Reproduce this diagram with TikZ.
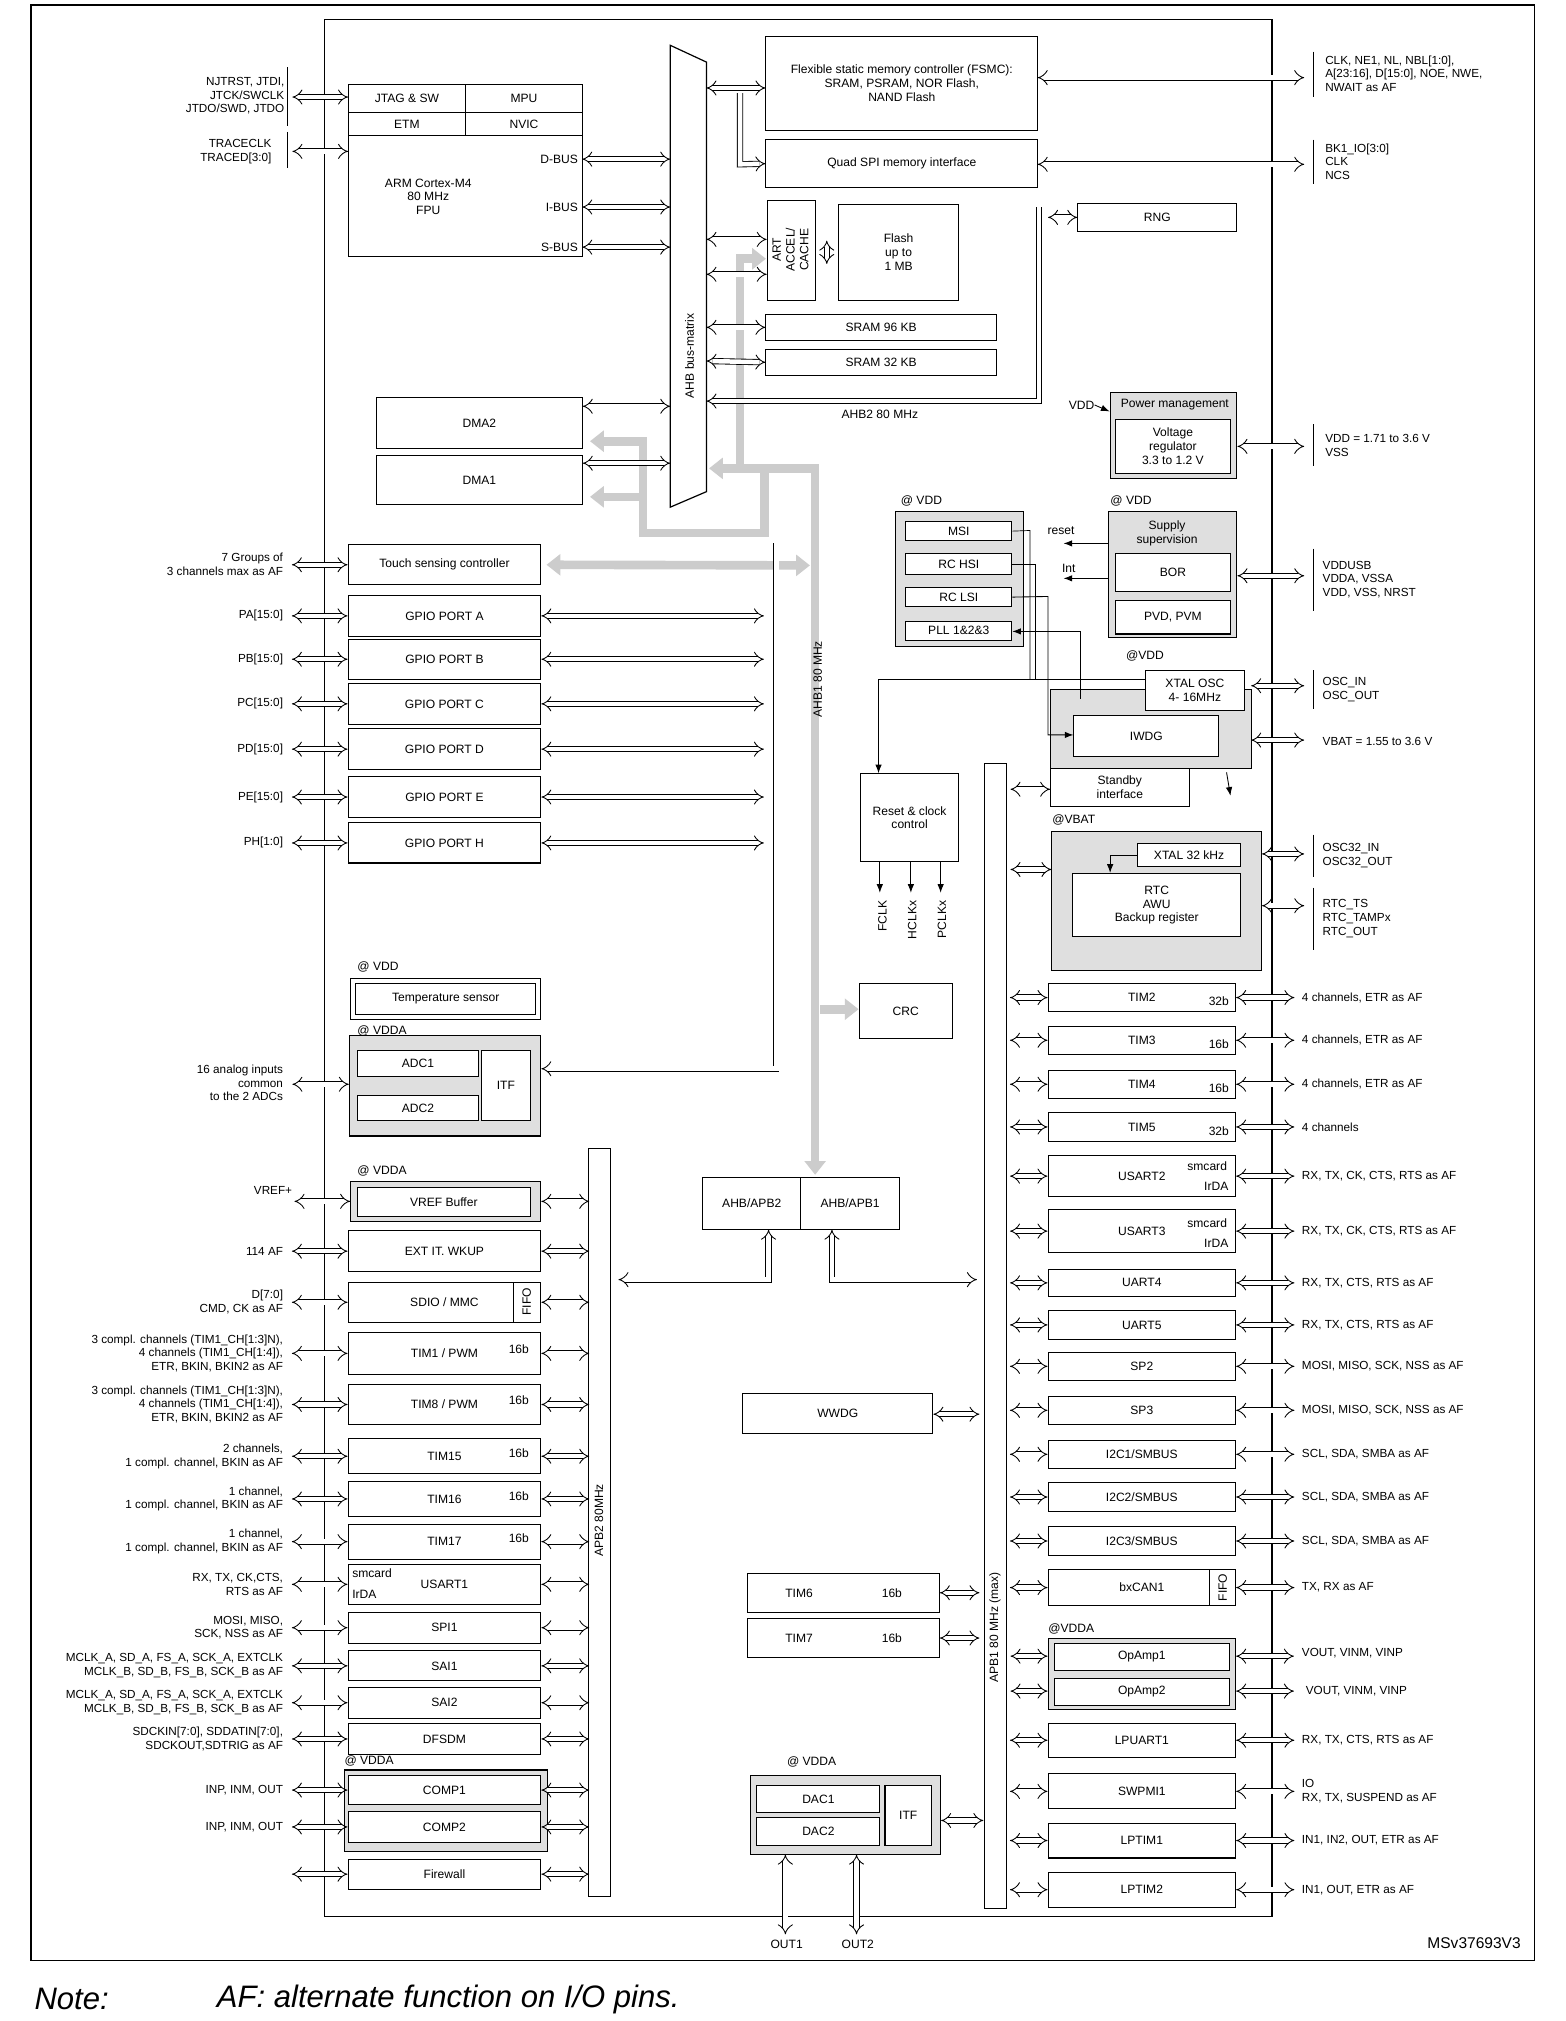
\documentclass[tikz,border=0pt]{standalone}
\usepackage{fontspec}
\setmainfont{Liberation Sans}
\usetikzlibrary{arrows.meta,shapes.geometric}
\newcommand\bx[6]{\node[box,minimum width={(#4-#2)*0.75pt},minimum height={(#5-#3)*0.75pt}] (#1) at ({(#2+#4)/2},{(#3+#5)/2}) {#6};}
\newcommand\litem[6]{\bx{#1}{269}{#2}{418}{#3}{#4}
 \draw[dbl] (#1.west) -- ++(-43,0);
 \draw[dbl] (#1.east) -- ++(#6,0);
 \node[lab,anchor=east,align=right] at (219,{(#2+#3)/2}) {#5};}
\newcommand\ritem[5]{\bx{#1}{810}{#2}{955}{#3}{#4}
 \draw[dbl] (#1.west) -- ++(-29,0);
 \draw[dbl] (#1.east) -- ++(45,0);
 \node[lab,anchor=west,align=left] at (1006,{(#2+#3)/2}) {#5};}
\begin{document}
\begin{tikzpicture}[x=0.75pt,y=-0.75pt,font=\fontsize{7}{8}\selectfont,
 box/.style={draw,line width=0.6pt,inner sep=0pt,align=center,fill=white},
 gbox/.style={draw,line width=0.6pt,fill=gray!25},
 lab/.style={inner sep=0pt,font=\fontsize{6.8}{8}\selectfont},
 dbl/.style={double,double distance=2.6pt,line width=0.5pt,{Implies}-{Implies}},
 dbr/.style={double,double distance=2.6pt,line width=0.5pt,{Implies}-},
 gb/.style={draw=gray!40,line width=5pt,-{Triangle[length=8pt,width=12pt]}},
 gbb/.style={draw=gray!40,line width=5pt,{Triangle[length=8pt,width=12pt]}-{Triangle[length=8pt,width=12pt]}},
 th/.style={line width=0.5pt,-{Latex[length=5pt]}}]
\useasboundingbox (0,0) rectangle (1210,1562);
\fill[white] (0,0) rectangle (1210,1562);
\draw[line width=0.8pt] (24,4) rectangle (1186,1515);
\draw[line width=0.8pt] (251,15) rectangle (983,1481);
\node[anchor=east,font=\fontsize{9}{10}\selectfont] at (1180,1502) {MSv37693V3};
\node[anchor=west,font=\fontsize{18}{20}\selectfont\itshape] at (22,1545) {Note:};
\node[anchor=west,font=\fontsize{18}{20}\selectfont\itshape] at (163,1545) {AF: alternate function on I/O pins.};

% CPU
\bx{cpu}{269}{65}{450}{198}{}
\bx{jtag}{269}{65}{360}{87}{JTAG \& SW}
\bx{mpu}{360}{65}{450}{87}{MPU}
\bx{etm}{269}{87}{360}{105}{ETM}
\bx{nvic}{360}{87}{450}{105}{NVIC}
\node[align=center,inner sep=0] at (331,152) {ARM Cortex-M4\\80 MHz\\FPU};
\node[anchor=east,inner sep=0] (dbus) at (447,123) {D-BUS};
\node[anchor=east,inner sep=0] (ibus) at (447,160) {I-BUS};
\node[anchor=east,inner sep=0] (sbus) at (447,191) {S-BUS};
\draw[dbl] (450,123) -- (518,123);
\draw[dbl] (450,160) -- (518,160);
\draw[dbl] (450,191) -- (518,191);
\node[lab,anchor=east,align=right] at (220,74) {NJTRST, JTDI,\\JTCK/SWCLK\\JTDO/SWD, JTDO};
\node[lab,anchor=east,align=right] at (210,117) {TRACECLK\\TRACED[3:0]};
\draw (222,52)--(222,97); \draw (222,102)--(222,130);
\draw[dbl] (226,75) -- (269,75);
\draw[dbl] (226,117) -- (269,117);

% bus matrix
\draw[line width=0.7pt,fill=white] (518,35)--(546,48)--(546,380)--(518,392)--cycle;
\node[rotate=90] at (533,275) {AHB bus-matrix};

% gray buses
\draw[gbb] (548,362) -- (630,362) -- (630,908);
\draw[gb] (572,362) -- (572,200) -- (592,200);
\draw[gb] (591,362) -- (591,412) -- (497,412) -- (497,341) -- (456,341);
\draw[gb] (497,384) -- (456,384);
\node[rotate=90] at (632,525) {AHB1 80 MHz};

% FSMC
\bx{fsmc}{592}{28}{802}{101}{Flexible static memory controller (FSMC):\\SRAM, PSRAM, NOR Flash,\\NAND Flash}
\bx{qspi}{592}{108}{802}{145}{Quad SPI memory interface}
\draw[dbl] (546,68) -- (fsmc.west|-0,68);
\draw[dbr] (qspi.west) -- (572,127) -- (572,72);
\draw[dbl] (802,60) -- (1008,60);
\draw[dbl] (802,127) -- (1008,127);
\draw (1015,40)--(1015,75); \draw (1015,108)--(1015,142);
\node[lab,anchor=west,align=left] at (1024,57) {CLK, NE1, NL, NBL[1:0],\\A[23:16], D[15:0], NOE, NWE,\\NWAIT as AF};
\node[lab,anchor=west,align=left] at (1024,125) {BK1\_IO[3:0]\\CLK\\NCS};

% ART, flash, SRAM
\bx{art}{593}{155}{630}{232}{}
\node[rotate=90,align=center,inner sep=0] at (611,193) {ART\\ACCEL/\\CACHE};
\bx{flash}{648}{158}{741}{232}{Flash\\up to\\1 MB}
\draw[dbl] (639,186) -- (639,204);
\draw[dbl] (546,185) -- (art.west|-0,185);
\draw[dbl] (546,212) -- (art.west|-0,212);
\bx{sram1}{592}{243}{770}{263}{SRAM 96 KB}
\bx{sram2}{592}{270}{770}{290}{SRAM 32 KB}
\draw[dbl] (546,253) -- (sram1.west);
\draw[dbl] (546,279) -- (sram2.west);
\bx{rng}{833}{157}{956}{179}{RNG}
\draw[dbr] (546,310) -- (803,310) -- (803,160);
\draw[dbl] (810,168) -- (rng.west);
\node at (680,320) {AHB2 80 MHz};

% DMA
\bx{dma2}{291}{307}{450}{347}{DMA2}
\bx{dma1}{291}{352}{450}{390}{DMA1}
\draw[dbl] (dma2.east|-0,314) -- (518,314);
\draw[dbl] (dma1.east|-0,358) -- (518,358);

% left column
\bx{tsc}{269}{421}{418}{452}{Touch sensing controller}
\draw[dbl] (tsc.west) -- ++(-43,0);
\node[lab,anchor=east,align=right] at (219,436) {7 Groups of\\3 channels max as AF};
\draw[gbb] (tsc.east) ++(4,0) -- (626,437);
\litem{gpa}{460}{492}{GPIO PORT A}{PA[15:0]}{172}
\litem{gpb}{494}{525}{GPIO PORT B}{PB[15:0]}{172}
\litem{gpc}{528}{560}{GPIO PORT C}{PC[15:0]}{172}
\litem{gpd}{563}{595}{GPIO PORT D}{PD[15:0]}{172}
\litem{gpe}{600}{632}{GPIO PORT E}{PE[15:0]}{172}
\litem{gph}{636}{667}{GPIO PORT H}{PH[1:0]}{172}

\node[anchor=west,inner sep=0] at (276,747) {@ VDD};
\bx{tso}{271}{756}{418}{788}{}
\bx{ts}{275}{760}{414}{784}{Temperature sensor}

\node[gbox,minimum width={148*0.75pt},minimum height={78*0.75pt},inner sep=0] (adc) at (344,839) {};
\node[anchor=west,inner sep=0] at (276,797) {@ VDDA};
\bx{adc1}{276}{812}{370}{832}{ADC1}
\bx{adc2}{276}{847}{370}{866}{ADC2}
\bx{itf1}{372}{812}{410}{866}{ITF}
\draw[dbr] (adc.east|-0,826) -- (600,826) -- (600,420);
\draw[dbl] (226,838) -- (adc.west|-0,838);
\node[lab,anchor=east,align=right] at (219,837) {16 analog inputs\\common\\to the 2 ADCs};

% APB2
\bx{apb2}{455}{888}{472}{1466}{}
\node[rotate=90] at (463,1175) {APB2 80MHz};

\node[anchor=west,inner sep=0] at (276,905) {@ VDDA};
\node[gbox,minimum width={147*0.75pt},minimum height={31*0.75pt},inner sep=0] (vrefo) at (344.5,928.5) {};
\bx{vref}{276}{918}{410}{940}{VREF Buffer}
\draw[dbl] (vrefo.west) -- ++(-43,0);
\draw[dbl] (vrefo.east) -- ++(37,0);
\node[lab,anchor=east] at (226,920) {VREF+};
\litem{exti}{951}{983}{EXT IT. WKUP}{114 AF}{37}
\litem{sdio}{991}{1022}{SDIO / MMC}{D[7:0]\\CMD, CK as AF}{37}
\bx{sfifo}{397}{991}{418}{1022}{}
\node[rotate=90,inner sep=0] at (407,1006) {FIFO};
\litem{tim1}{1030}{1062}{TIM1 / PWM}{3 compl. channels (TIM1\_CH[1:3]N),\\4 channels (TIM1\_CH[1:4]),\\ETR, BKIN, BKIN2 as AF}{37}
\litem{tim8}{1070}{1101}{TIM8 / PWM}{3 compl. channels (TIM1\_CH[1:3]N),\\4 channels (TIM1\_CH[1:4]),\\ETR, BKIN, BKIN2 as AF}{37}
\litem{tim15}{1112}{1139}{TIM15}{2 channels,\\1 compl. channel, BKIN as AF}{37}
\litem{tim16}{1145}{1172}{TIM16}{1 channel,\\1 compl. channel, BKIN as AF}{37}
\litem{tim17}{1178}{1205}{TIM17}{1 channel,\\1 compl. channel, BKIN as AF}{37}
\foreach \y in {1043,1082,1123,1156,1189} \node at (401,\y) {16b};
\litem{usart1}{1209}{1240}{USART1}{RX, TX, CK,CTS,\\RTS as AF}{37}
\node[anchor=west,inner sep=0] at (272,1216) {smcard};
\node[anchor=west,inner sep=0] at (272,1232) {IrDA};
\litem{spi1}{1246}{1270}{SPI1}{MOSI, MISO,\\SCK, NSS as AF}{37}
\litem{sai1}{1276}{1299}{SAI1}{MCLK\_A, SD\_A, FS\_A, SCK\_A, EXTCLK\\MCLK\_B, SD\_B, FS\_B, SCK\_B as AF}{37}
\litem{sai2}{1304}{1328}{SAI2}{MCLK\_A, SD\_A, FS\_A, SCK\_A, EXTCLK\\MCLK\_B, SD\_B, FS\_B, SCK\_B as AF}{37}
\litem{dfsdm}{1332}{1356}{DFSDM}{SDCKIN[7:0], SDDATIN[7:0],\\SDCKOUT,SDTRIG as AF}{37}
\node[anchor=west,inner sep=0] at (266,1361) {@ VDDA};
\node[gbox,minimum width={157*0.75pt},minimum height={63*0.75pt},inner sep=0] (comp) at (344.5,1399.5) {};
\litem{comp1}{1372}{1395}{COMP1}{INP, INM, OUT}{37}
\litem{comp2}{1400}{1424}{COMP2}{INP, INM, OUT}{37}
\litem{fw}{1437}{1460}{Firewall}{}{37}

% middle
\bx{rcc}{665}{598}{741}{666}{Reset \& clock\\control}
\draw[th] (680,666) -- (680,690);
\draw[th] (704,666) -- (704,690);
\draw[th] (727,666) -- (727,690);
\node[rotate=90,anchor=east,inner sep=0] at (682,696) {FCLK};
\node[rotate=90,anchor=east,inner sep=0] at (705,696) {HCLKx};
\node[rotate=90,anchor=east,inner sep=0] at (728,696) {PCLKx};
\bx{crc}{664}{760}{736}{803}{CRC}
\draw[gb] (634,780) -- (crc.west|-0,780);
\bx{ahbapb2}{543}{910}{619}{950}{AHB/APB2}
\bx{ahbapb1}{619}{910}{695}{950}{AHB/APB1}
\draw[dbl] (ahbapb2.south-|594,0) -- (594,989) -- (478,989);
\draw[dbl] (ahbapb1.south-|643,0) -- (643,989) -- (755,989);
\bx{wwdg}{574}{1077}{721}{1108}{WWDG}
\draw[dbl] (wwdg.east|-0,1093) -- (757,1093);
\bx{tim6}{578}{1216}{726}{1246}{TIM6\hspace{40pt}16b}
\bx{tim7}{578}{1251}{726}{1281}{TIM7\hspace{40pt}16b}
\draw[dbl] (tim6.east) -- (757,1231);
\draw[dbl] (tim7.east) -- (757,1266);
\node[anchor=west,inner sep=0] at (608,1362) {@ VDDA};
\node[gbox,minimum width={147*0.75pt},minimum height={61*0.75pt},inner sep=0] (dac) at (653.5,1402.5) {};
\bx{dac1}{585}{1380}{680}{1401}{DAC1}
\bx{dac2}{585}{1405}{680}{1426}{DAC2}
\bx{itf2}{684}{1380}{720}{1426}{ITF}
\draw[dbl] (dac.east|-0,1407) -- (760,1407);
\draw[dbl] (dac.south-|607,0) -- (607,1495);
\draw[dbl] (dac.south-|662,0) -- (662,1495);
\node at (608,1503) {OUT1};
\node at (663,1503) {OUT2};

% APB1
\bx{apb1}{761}{590}{778}{1475}{}
\node[rotate=90] at (769,1258) {APB1 80 MHz (max)};

% right column
\ritem{tim2}{760}{782}{TIM2}{4 channels, ETR as AF}
\ritem{tim3}{793}{815}{TIM3}{4 channels, ETR as AF}
\ritem{tim4}{827}{849}{TIM4}{4 channels, ETR as AF}
\ritem{tim5}{860}{882}{TIM5}{4 channels}
\node at (942,774) {32b}; \node at (942,807) {16b}; \node at (942,841) {16b}; \node at (942,874) {32b};
\ritem{usart2}{893}{925}{USART2}{RX, TX, CK, CTS, RTS as AF}
\ritem{usart3}{935}{968}{USART3}{RX, TX, CK, CTS, RTS as AF}
\node at (933,901) {smcard}; \node at (940,917) {IrDA};
\node at (933,945) {smcard}; \node at (940,961) {IrDA};
\ritem{uart4}{981}{1002}{UART4}{RX, TX, CTS, RTS as AF}
\ritem{uart5}{1013}{1035}{UART5}{RX, TX, CTS, RTS as AF}
\ritem{sp2}{1045}{1067}{SP2}{MOSI, MISO, SCK, NSS as AF}
\ritem{sp3}{1079}{1101}{SP3}{MOSI, MISO, SCK, NSS as AF}
\ritem{i2c1}{1113}{1135}{I2C1/SMBUS}{SCL, SDA, SMBA as AF}
\ritem{i2c2}{1146}{1168}{I2C2/SMBUS}{SCL, SDA, SMBA as AF}
\ritem{i2c3}{1180}{1202}{I2C3/SMBUS}{SCL, SDA, SMBA as AF}
\ritem{can}{1213}{1241}{bxCAN1}{TX, RX as AF}
\bx{cfifo}{935}{1213}{955}{1241}{}
\node[rotate=90,inner sep=0] at (945,1227) {FIFO};
\node[anchor=west,inner sep=0] at (810,1259) {@VDDA};
\node[gbox,minimum width={145*0.75pt},minimum height={55*0.75pt},inner sep=0] (opa) at (882.5,1293.5) {};
\bx{opa1}{815}{1270}{950}{1291}{OpAmp1}
\bx{opa2}{815}{1297}{950}{1318}{OpAmp2}
\draw[dbl] (781,1280) -- (opa.west|-0,1280);
\draw[dbl] (781,1307) -- (opa.west|-0,1307);
\draw[dbl] (opa.east|-0,1280) -- (1000,1280);
\draw[dbl] (opa.east|-0,1307) -- (1000,1307);
\node[lab,anchor=west] at (1006,1278) {VOUT, VINM, VINP};
\node[lab,anchor=west] at (1009,1307) {VOUT, VINM, VINP};
\ritem{lpuart}{1332}{1358}{LPUART1}{RX, TX, CTS, RTS as AF}
\ritem{swpmi}{1371}{1398}{SWPMI1}{IO\\RX, TX, SUSPEND as AF}
\ritem{lptim1}{1409}{1436}{LPTIM1}{IN1, IN2, OUT, ETR as AF}
\ritem{lptim2}{1447}{1474}{LPTIM2}{IN1, OUT, ETR as AF}

% power management
\node[gbox,minimum width={98*0.75pt},minimum height={67*0.75pt},inner sep=0] (pwr) at (907,336.5) {};
\node at (908,313) {Power management};
\bx{vreg}{862}{324}{951}{366}{Voltage\\regulator\\3.3 to 1.2 V}
\node[anchor=east,inner sep=0] (vdd) at (846,313) {VDD};
\draw[th] (vdd.east) -- (pwr.west|-0,318);
\draw[dbl] (pwr.east|-0,345) -- (1008,345);
\draw (1015,328)--(1015,360);
\node[lab,anchor=west,align=left] at (1024,344) {VDD = 1.71 to 3.6 V\\VSS};

\node[anchor=west,inner sep=0] at (858,387) {@ VDD};
\node[gbox,minimum width={99*0.75pt},minimum height={98*0.75pt},inner sep=0] (sup) at (906.5,444) {};
\node[align=center] at (902,412) {Supply\\supervision};
\bx{bor}{862}{428}{951}{457}{BOR}
\bx{pvd}{862}{464}{951}{490}{PVD, PVM}
\draw[th] (sup.west|-0,420) -- (822,420);
\draw[th] (sup.west|-0,447) -- (822,447);
\node at (820,410) {reset};
\node at (826,439) {Int};
\draw[dbl] (sup.east|-0,445) -- (1008,445);
\draw (1015,424)--(1015,472);
\node[lab,anchor=west,align=left] at (1022,448) {VDDUSB\\VDDA, VSSA\\VDD, VSS, NRST};

\node[anchor=west,inner sep=0] at (696,387) {@ VDD};
\node[gbox,minimum width={99*0.75pt},minimum height={105*0.75pt},inner sep=0] (osc) at (741.5,447.5) {};
\bx{msi}{700}{403}{782}{418}{MSI}
\bx{hsi}{700}{428}{782}{444}{RC HSI}
\bx{lsi}{700}{454}{782}{469}{RC LSI}
\bx{pll}{700}{480}{782}{495}{PLL 1\&2\&3}

\node[anchor=west,inner sep=0] at (870,507) {@VDD};
\node[gbox,minimum width={155*0.75pt},minimum height={61*0.75pt},inner sep=0] (iwdgb) at (889.5,563.5) {};
\bx{iwdg}{830}{553}{942}{585}{IWDG}
\bx{xtal}{885}{518}{962}{549}{XTAL OSC\\4- 16MHz}
\bx{stby}{812}{594}{919}{623}{Standby\\interface}
\draw[dbl] (967,530) -- (1008,530);
\draw[dbl] (967,572) -- (1008,572);
\draw (1015,518)--(1015,548);
\node[lab,anchor=west,align=left] at (1022,533) {OSC\_IN\\OSC\_OUT};
\node[lab,anchor=west] at (1022,573) {VBAT = 1.55 to 3.6 V};
\draw[dbl] (781,610) -- (stby.west|-0,610);
\draw[th] (xtal.west|-0,525) -- (679,525) -- (rcc.north-|679,0);
\draw[th] (lsi.east) -- (810,461) -- (810,568) -- (iwdg.west|-0,568);
\draw[th] (835,540) -- (835,488) -- (pll.east|-0,488);
\draw (hsi.east) -- (800,436) -- (800,525);
\draw (msi.east) -- (796,410) -- (796,525);
\draw[th] (948,597) -- (951,615);

\node[anchor=west,inner sep=0] at (813,634) {@VBAT};
\node[gbox,minimum width={162*0.75pt},minimum height={107*0.75pt},inner sep=0] (vbat) at (894,696.5) {};
\bx{x32}{879}{652}{959}{670}{XTAL 32 kHz}
\bx{rtc}{829}{675}{959}{724}{RTC\\AWU\\Backup register}
\draw[th] (x32.west) -- (858,661) -- (rtc.north-|858,0);
\draw[dbl] (781,672) -- (vbat.west|-0,672);
\draw[dbl] (vbat.east|-0,660) -- (1008,660);
\draw[dbl] (vbat.east|-0,700) -- (1008,700);
\draw (1015,645)--(1015,678); \draw (1015,686)--(1015,734);
\node[lab,anchor=west,align=left] at (1022,661) {OSC32\_IN\\OSC32\_OUT};
\node[lab,anchor=west,align=left] at (1022,710) {RTC\_TS\\RTC\_TAMPx\\RTC\_OUT};
\end{tikzpicture}
\end{document}
